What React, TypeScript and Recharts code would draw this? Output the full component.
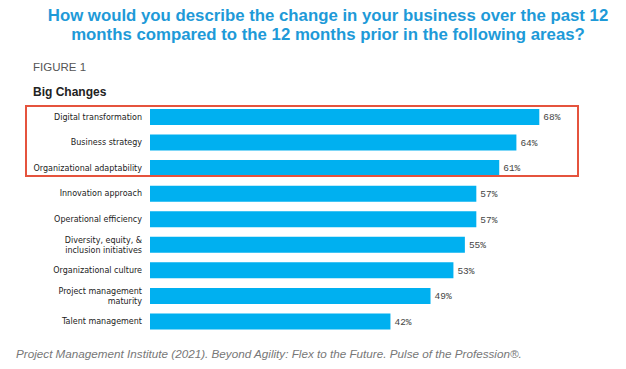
import { BarChart, Bar, XAxis, YAxis, LabelList } from "recharts";

const categories = [
  "Digital transformation",
  "Business strategy",
  "Organizational adaptability",
  "Innovation approach",
  "Operational efficiency",
  "Diversity, equity, &\ninclusion initiatives",
  "Organizational culture",
  "Project management\nmaturity",
  "Talent management",
];
const percents = [68, 64, 61, 57, 57, 55, 53, 49, 42];

const data = categories.map((name, i) => ({ name, value: percents[i] }));

const BLUE = "#00b0f0";
const TITLE_BLUE = "#1e9ad8";

function CategoryTick(props: any) {
  const { x, y, payload } = props;
  const lines = String(payload.value).split("\n");
  const lh = 10;
  const y0 = y - ((lines.length - 1) * lh) / 2;
  return (
    <text
      x={x}
      y={y0}
      textAnchor="end"
      fontSize={8}
      fill="#222"
      fontFamily="'DejaVu Sans', sans-serif"
    >
      {lines.map((l: string, i: number) => (
        <tspan key={i} x={x} y={y0 + i * lh} dy={3}>
          {l}
        </tspan>
      ))}
    </text>
  );
}

export default function App() {
  return (
    <div
      style={{
        position: "absolute",
        left: 0,
        top: 0,
        width: 626,
        height: 369,
        background: "#fff",
        fontFamily: "Arial, 'Liberation Sans', sans-serif",
        overflow: "hidden",
      }}
    >
      <div
        style={{
          position: "absolute",
          left: 28,
          width: 600,
          top: 6,
          textAlign: "center",
          color: TITLE_BLUE,
          fontWeight: "bold",
          fontSize: 16.8,
          lineHeight: "19px",
          whiteSpace: "nowrap",
        }}
      >
        How would you describe the change in your business over the past 12
        <br />
        months compared to the 12 months prior in the following areas?
      </div>
      <div style={{ position: "absolute", left: 33, top: 61, fontSize: 11.5, color: "#555" }}>
        FIGURE 1
      </div>
      <div
        style={{ position: "absolute", left: 33, top: 85, fontSize: 12, fontWeight: "bold", color: "#222" }}
      >
        Big Changes
      </div>
      <div style={{ position: "absolute", left: 0, top: 0 }}>
        <BarChart
          width={626}
          height={369}
          data={data}
          layout="vertical"
          margin={{ top: 104, right: 18, bottom: 35, left: 0 }}
          barSize={16}
        >
          <XAxis type="number" domain={[0, 80]} hide />
          <YAxis
            type="category"
            dataKey="name"
            width={150}
            axisLine={false}
            tickLine={false}
            tickMargin={2}
            interval={0}
            tick={<CategoryTick />}
          />
          <Bar dataKey="value" fill={BLUE} isAnimationActive={false}>
            <LabelList
              dataKey="value"
              position="right"
              offset={4}
              formatter={(v: any) => `${v}%`}
              style={{ fontSize: 9.5, fill: "#444", fontFamily: "'Liberation Mono', monospace" }}
            />
          </Bar>
        </BarChart>
      </div>
      <div
        style={{
          position: "absolute",
          left: 25,
          top: 105,
          width: 554,
          height: 72,
          border: "2px solid #e5533d",
          boxSizing: "border-box",
          pointerEvents: "none",
        }}
      />
      <div
        style={{
          position: "absolute",
          left: 16,
          top: 347,
          fontSize: 11.7,
          fontStyle: "italic",
          color: "#777",
          whiteSpace: "nowrap",
        }}
      >
        Project Management Institute (2021). Beyond Agility: Flex to the Future. Pulse of the Profession®.
      </div>
    </div>
  );
}
